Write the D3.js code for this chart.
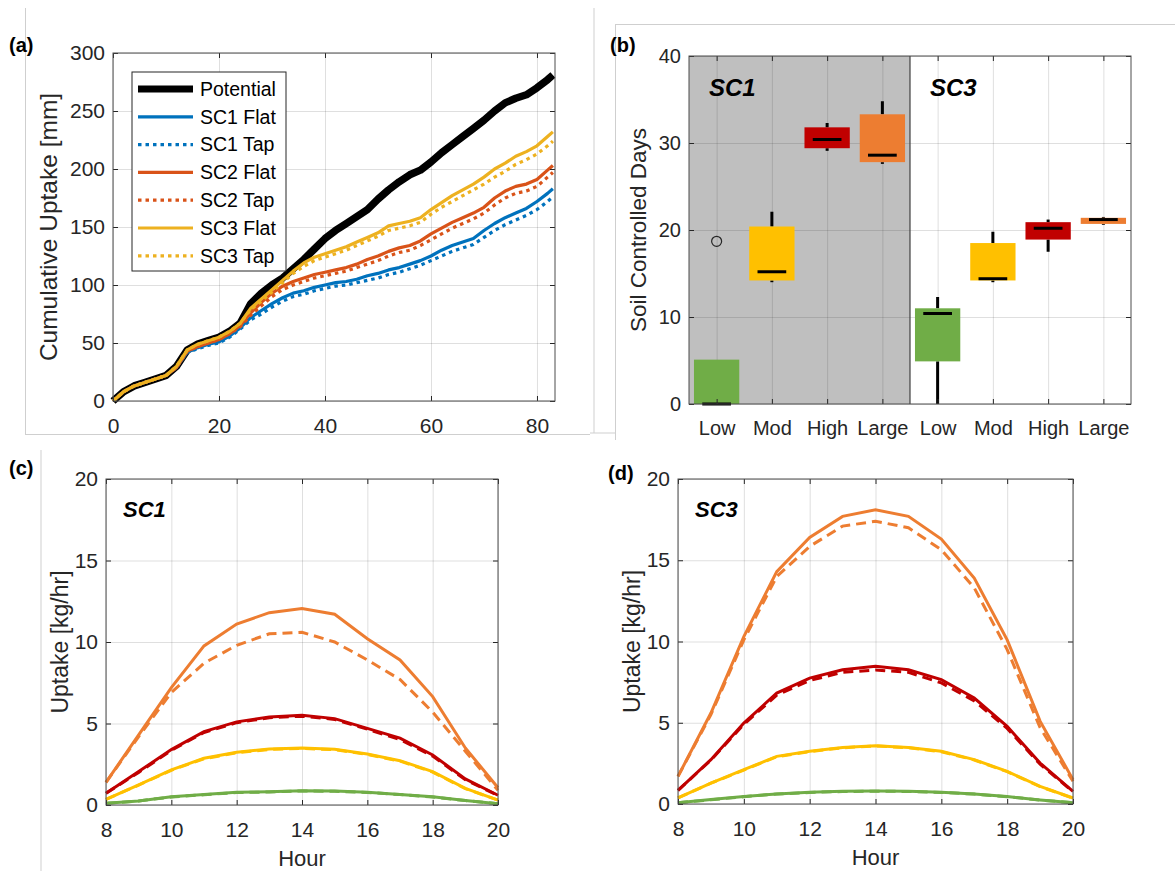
<!DOCTYPE html>
<html>
<head>
<meta charset="utf-8">
<script src="https://cdn.jsdelivr.net/npm/d3@7"></script>
<style>
  body { margin: 0; background: #fff; }
</style>
</head>
<body>
<svg id="fig" width="1175" height="871"></svg>
<script>
// ---------- Panel (a): cumulative uptake [mm] ----------
const days = [0,2,4,6,8,10,12,14,16,18,20,22,24,26,28,30,32,34,36,38,40,42,44,46,48,50,52,54,56,58,60,62,64,66,68,70,72,74,76,78,80,82,83];
const potential = [0,8,13,16,19,22,30,44,49,52,55,60,67,84,93,100,106,114,122,131,140,147,153,159,165,174,182,189,195,199,206,214,221,228,235,242,250,257,261,264,270,277,281];
const sc1Flat = [0,8,13,16,19,22,29,42,46,49,51,56,63,72,78,84,89,93,95,98,100,102,103,105,108,110,113,115,118,121,125,130,134,137,140,147,153,158,162,166,172,179,183];
const sc1Tap  = [0,8,13,16,19,22,29,42,45,48,50,55,62,70,75,81,86,90,92,95,97,99,100,102,104,106,109,111,114,117,121,125,129,132,135,141,147,152,156,160,165,172,176];
const sc2Flat = [0,8,13,16,19,22,29,43,47,50,53,58,65,76,85,93,99,103,106,109,111,113,115,118,122,125,129,132,134,138,144,149,154,158,162,167,175,181,185,187,191,199,203];
const sc2Tap  = [0,8,13,16,19,22,29,43,47,50,53,58,64,74,82,90,96,100,103,106,108,110,112,115,118,121,125,128,130,134,139,144,149,153,157,162,169,175,179,181,185,193,197];
const sc3Flat = [0,8,13,16,19,22,30,44,49,52,55,60,67,80,88,96,104,112,119,124,127,130,133,137,141,145,151,153,155,158,165,171,177,182,187,193,200,205,211,215,220,228,232];
const sc3Tap  = [0,8,13,16,19,22,30,44,49,52,55,60,67,79,86,94,102,110,116,121,124,127,130,134,138,142,147,149,151,154,161,167,172,177,182,187,193,198,204,208,213,220,224];
const legendLabels = ["Potential","SC1 Flat","SC1 Tap","SC2 Flat","SC2 Tap","SC3 Flat","SC3 Tap"];
const dayTicks = [0,20,40,60,80];
const uptakeTicks = [0,50,100,150,200,250,300];

// ---------- Panel (b): soil controlled days ----------
const boxCategories = ["Low","Mod","High","Large","Low","Mod","High","Large"];
const whiskerLow  = [0, 14.0, 29.1, 27.6, 0, 14.0, 17.5, 20.6];
const boxQ1       = [0, 14.2, 29.4, 27.8, 4.9, 14.2, 18.9, 20.7];
const boxMedian   = [0, 15.2, 30.4, 28.6, 10.4, 14.4, 20.2, 21.2];
const boxQ3       = [5.1, 20.4, 31.8, 33.3, 11.0, 18.5, 20.9, 21.4];
const whiskerHigh = [5.1, 22.1, 32.3, 34.8, 12.3, 19.8, 21.2, 21.5];
const outlierPos  = [1];
const outlierVal  = [18.7];
const dayCountTicks = [0,10,20,30,40];

// ---------- Panels (c) and (d): hourly uptake [kg/hr] ----------
const hours = [8,9,10,11,12,13,14,15,16,17,18,19,20];
const hourTicks = [8,10,12,14,16,18,20];
const rateTicks = [0,5,10,15,20];
const sc1LowFlat   = [0.10,0.25,0.50,0.64,0.78,0.82,0.88,0.86,0.78,0.65,0.50,0.28,0.08];
const sc1LowTap    = [0.10,0.25,0.49,0.63,0.76,0.80,0.86,0.84,0.77,0.64,0.49,0.27,0.08];
const sc1ModFlat   = [0.35,1.23,2.15,2.87,3.23,3.44,3.50,3.42,3.13,2.72,2.05,1.02,0.30];
const sc1ModTap    = [0.35,1.22,2.13,2.84,3.20,3.41,3.47,3.39,3.10,2.69,2.02,1.00,0.30];
const sc1HighFlat  = [0.72,2.05,3.40,4.50,5.10,5.40,5.50,5.30,4.70,4.10,3.07,1.60,0.60];
const sc1HighTap   = [0.72,2.00,3.35,4.45,5.05,5.35,5.45,5.25,4.65,4.02,3.00,1.55,0.58];
const sc1LargeFlat = [1.39,4.30,7.20,9.76,11.10,11.80,12.05,11.70,10.20,8.90,6.65,3.50,1.06];
const sc1LargeTap  = [1.39,4.20,6.90,8.70,9.80,10.50,10.60,10.00,8.90,7.70,5.70,3.30,0.90];
const sc3LowFlat   = [0.08,0.27,0.46,0.62,0.72,0.78,0.80,0.78,0.72,0.62,0.46,0.25,0.08];
const sc3LowTap    = [0.08,0.26,0.45,0.61,0.71,0.77,0.79,0.77,0.71,0.61,0.45,0.24,0.08];
const sc3ModFlat   = [0.37,1.29,2.11,2.93,3.24,3.48,3.59,3.48,3.24,2.73,2.01,1.08,0.37];
const sc3ModTap    = [0.37,1.28,2.09,2.91,3.22,3.46,3.57,3.46,3.22,2.71,1.99,1.07,0.36];
const sc3HighFlat  = [0.84,2.73,4.98,6.83,7.75,8.26,8.47,8.26,7.65,6.52,4.78,2.52,0.78];
const sc3HighTap   = [0.84,2.70,4.90,6.70,7.60,8.10,8.25,8.10,7.45,6.35,4.65,2.45,0.76];
const sc3LargeFlat = [1.70,5.60,10.30,14.30,16.40,17.70,18.10,17.70,16.30,13.90,10.10,5.10,1.50];
const sc3LargeTap  = [1.70,5.50,10.10,14.00,15.85,17.10,17.40,17.00,15.65,13.30,9.50,4.70,1.40];

// Colours
const font = "Arial, 'Liberation Sans', Helvetica, sans-serif";
const axisColor = "#262626";
const lineColors = ["#000000","#0072BD","#0072BD","#D95319","#D95319","#EDB120","#EDB120"];
const classColors = { Low: "#70AD47", Mod: "#FFC000", High: "#C00000", Large: "#ED7D31" };

const svg = d3.select("#fig");
svg.append("rect").attr("width", 1175).attr("height", 871).attr("fill", "#fff");

// thin gray borders left over from the composed figure
const borders = [[25.5,8,25.5,435],[25,434.5,590,434.5],[594,8,594,433],[590,433,616,433],[615.5,24,615.5,440],[615,24.5,1175,24.5],[41,450,41,871]];
svg.selectAll("line.border").data(borders).join("line")
  .attr("x1", d => d[0]).attr("y1", d => d[1]).attr("x2", d => d[2]).attr("y2", d => d[3])
  .attr("stroke", "#cfcfcf").attr("stroke-width", 1);

// ---------- helpers ----------
function addGrid(g, x, y, w, h, xTicks, yTicks) {
  g.append("g").attr("transform", `translate(0,${h})`)
    .call(d3.axisBottom(x).tickValues(xTicks).tickSize(-h).tickFormat(""))
    .call(a => { a.select(".domain").remove(); a.selectAll("line").attr("stroke", axisColor).attr("stroke-opacity", 0.15); });
  g.append("g")
    .call(d3.axisLeft(y).tickValues(yTicks).tickSize(-w).tickFormat(""))
    .call(a => { a.select(".domain").remove(); a.selectAll("line").attr("stroke", axisColor).attr("stroke-opacity", 0.15); });
}

function styleAxis(a, fontSize) {
  a.select(".domain").remove();
  a.selectAll(".tick line").attr("stroke", axisColor).attr("stroke-width", 1);
  a.selectAll(".tick text").attr("fill", axisColor)
    .style("font-family", font).style("font-size", fontSize + "px");
}

function addAxes(g, x, y, w, h, xTicks, yTicks, fontSize, xFormat) {
  const tl = 5;
  g.append("g").attr("transform", `translate(0,${h})`)
    .call(d3.axisBottom(x).tickValues(xTicks).tickSize(-tl).tickPadding(17).tickFormat(xFormat || d3.format("d")))
    .call(a => styleAxis(a, fontSize));
  g.append("g")
    .call(d3.axisLeft(y).tickValues(yTicks).tickSize(-tl).tickPadding(8).tickFormat(d3.format("d")))
    .call(a => styleAxis(a, fontSize));
  g.append("g")
    .call(d3.axisTop(x).tickValues(xTicks).tickSize(-tl).tickFormat(""))
    .call(a => styleAxis(a, fontSize));
  g.append("g").attr("transform", `translate(${w},0)`)
    .call(d3.axisRight(y).tickValues(yTicks).tickSize(-tl).tickFormat(""))
    .call(a => styleAxis(a, fontSize));
  g.append("rect").attr("width", w).attr("height", h)
    .attr("fill", "none").attr("stroke", "#4d4d4d").attr("stroke-width", 1);
}

function yLabel(g, text, xPos, h, size) {
  g.append("text")
    .attr("transform", `translate(${xPos},${h / 2}) rotate(-90)`)
    .attr("text-anchor", "middle")
    .style("font-family", font).style("font-size", size + "px")
    .attr("fill", axisColor)
    .text(text);
}

function panelLetter(text, xPos, yPos) {
  svg.append("text").attr("x", xPos).attr("y", yPos)
    .style("font-family", font).style("font-size", "20px").style("font-weight", "bold")
    .text(text);
}

// ---------- Panel (a) ----------
const aW = 442, aH = 348;
const gA = svg.append("g").attr("transform", "translate(113,53)");
const xA = d3.scaleLinear().domain([0, 83.4]).range([0, aW]);
const yA = d3.scaleLinear().domain([0, 300]).range([aH, 0]);
addGrid(gA, xA, yA, aW, aH, dayTicks, uptakeTicks);

const seriesA = [potential, sc1Flat, sc1Tap, sc2Flat, sc2Tap, sc3Flat, sc3Tap];
const lineA = d3.line().x((d, i) => xA(days[i])).y(d => yA(d));
seriesA.forEach((s, k) => {
  gA.append("path")
    .datum(s)
    .attr("d", lineA)
    .attr("fill", "none")
    .attr("stroke", lineColors[k])
    .attr("stroke-width", k === 0 ? 7.5 : 3.2)
    .attr("stroke-linejoin", "round")
    .attr("stroke-dasharray", k > 0 && k % 2 === 0 ? "3.5,4" : null);
});
addAxes(gA, xA, yA, aW, aH, dayTicks, uptakeTicks, 21);
yLabel(gA, "Cumulative Uptake [mm]", -56, aH, 24.5);

// legend
const leg = gA.append("g").attr("transform", "translate(19,19)");
leg.append("rect").attr("width", 154).attr("height", 199)
  .attr("fill", "#fff").attr("stroke", "#262626").attr("stroke-width", 1);
legendLabels.forEach((lab, k) => {
  const ly = 17 + k * 27.8;
  leg.append("line").attr("x1", 6).attr("x2", 61).attr("y1", ly).attr("y2", ly)
    .attr("stroke", lineColors[k])
    .attr("stroke-width", k === 0 ? 7 : 3.2)
    .attr("stroke-dasharray", k > 0 && k % 2 === 0 ? "3.5,4" : null);
  leg.append("text").attr("x", 68).attr("y", ly).attr("dy", "0.35em")
    .style("font-family", font).style("font-size", "19.5px")
    .text(lab);
});
panelLetter("(a)", 9, 52);

// ---------- Panel (b) ----------
const bW = 442, bH = 348;
const gB = svg.append("g").attr("transform", "translate(689,56)");
const xB = d3.scaleLinear().domain([0.5, 8.5]).range([0, bW]);
const yB = d3.scaleLinear().domain([0, 40]).range([bH, 0]);
const catPos = d3.range(1, boxCategories.length + 1);

// shaded SC1 half
gB.append("rect").attr("x", xB(0.5)).attr("y", 0)
  .attr("width", xB(4.5) - xB(0.5)).attr("height", bH).attr("fill", "#bfbfbf");
addGrid(gB, xB, yB, bW, bH, catPos, dayCountTicks);
gB.append("line").attr("x1", xB(4.5)).attr("x2", xB(4.5)).attr("y1", 0).attr("y2", bH)
  .attr("stroke", "#404040").attr("stroke-width", 1.2);

const boxHalf = (xB(1.41) - xB(1));
const medHalf = (xB(1.26) - xB(1));
catPos.forEach((p, i) => {
  const cx = xB(p);
  // whiskers
  gB.append("line").attr("x1", cx).attr("x2", cx).attr("y1", yB(boxQ3[i])).attr("y2", yB(whiskerHigh[i]))
    .attr("stroke", "#000").attr("stroke-width", 3);
  gB.append("line").attr("x1", cx).attr("x2", cx).attr("y1", yB(boxQ1[i])).attr("y2", yB(whiskerLow[i]))
    .attr("stroke", "#000").attr("stroke-width", 3);
  // box
  gB.append("rect")
    .attr("x", cx - boxHalf).attr("y", yB(boxQ3[i]))
    .attr("width", boxHalf * 2).attr("height", yB(boxQ1[i]) - yB(boxQ3[i]))
    .attr("fill", classColors[boxCategories[i]]);
  // median
  gB.append("line").attr("x1", cx - medHalf).attr("x2", cx + medHalf)
    .attr("y1", yB(boxMedian[i])).attr("y2", yB(boxMedian[i]))
    .attr("stroke", "#000").attr("stroke-width", 3);
});
outlierPos.forEach((p, i) => {
  gB.append("circle").attr("cx", xB(p)).attr("cy", yB(outlierVal[i])).attr("r", 5)
    .attr("fill", "none").attr("stroke", "#262626").attr("stroke-width", 1.2);
});
addAxes(gB, xB, yB, bW, bH, catPos, dayCountTicks, 20, d => boxCategories[d - 1]);
yLabel(gB, "Soil Controlled Days", -43, bH, 22.5);
gB.append("text").attr("x", xB(0.86)).attr("y", 40)
  .style("font-family", font).style("font-size", "24px").style("font-weight", "bold").style("font-style", "italic")
  .text("SC1");
gB.append("text").attr("x", xB(4.86)).attr("y", 40)
  .style("font-family", font).style("font-size", "24px").style("font-weight", "bold").style("font-style", "italic")
  .text("SC3");
panelLetter("(b)", 610, 52);

// ---------- Panels (c) and (d) ----------
function hourlyPanel(left, top, w, h, flatSets, tapSets, tag) {
  const g = svg.append("g").attr("transform", `translate(${left},${top})`);
  const x = d3.scaleLinear().domain([8, 20]).range([0, w]);
  const y = d3.scaleLinear().domain([0, 20]).range([h, 0]);
  addGrid(g, x, y, w, h, hourTicks, rateTicks);
  const line = d3.line().x((d, i) => x(hours[i])).y(d => y(d));
  const names = ["Low", "Mod", "High", "Large"];
  names.forEach((nm, k) => {
    g.append("path").datum(flatSets[k]).attr("d", line)
      .attr("fill", "none").attr("stroke", classColors[nm]).attr("stroke-width", 3);
    g.append("path").datum(tapSets[k]).attr("d", line)
      .attr("fill", "none").attr("stroke", classColors[nm]).attr("stroke-width", 3)
      .attr("stroke-dasharray", "10,6");
  });
  addAxes(g, x, y, w, h, hourTicks, rateTicks, 21);
  yLabel(g, "Uptake [kg/hr]", -38, h, 23);
  g.append("text").attr("x", w / 2).attr("y", h + 61).attr("text-anchor", "middle")
    .style("font-family", font).style("font-size", "22px").attr("fill", axisColor)
    .text("Hour");
  g.append("text").attr("x", 17).attr("y", 38)
    .style("font-family", font).style("font-size", "22px").style("font-weight", "bold").style("font-style", "italic")
    .text(tag);
  return g;
}

hourlyPanel(106, 479, 392, 326,
  [sc1LowFlat, sc1ModFlat, sc1HighFlat, sc1LargeFlat],
  [sc1LowTap, sc1ModTap, sc1HighTap, sc1LargeTap], "SC1");
hourlyPanel(678, 479, 395, 325,
  [sc3LowFlat, sc3ModFlat, sc3HighFlat, sc3LargeFlat],
  [sc3LowTap, sc3ModTap, sc3HighTap, sc3LargeTap], "SC3");
panelLetter("(c)", 9, 475);
panelLetter("(d)", 608, 480);
</script>
</body>
</html>
